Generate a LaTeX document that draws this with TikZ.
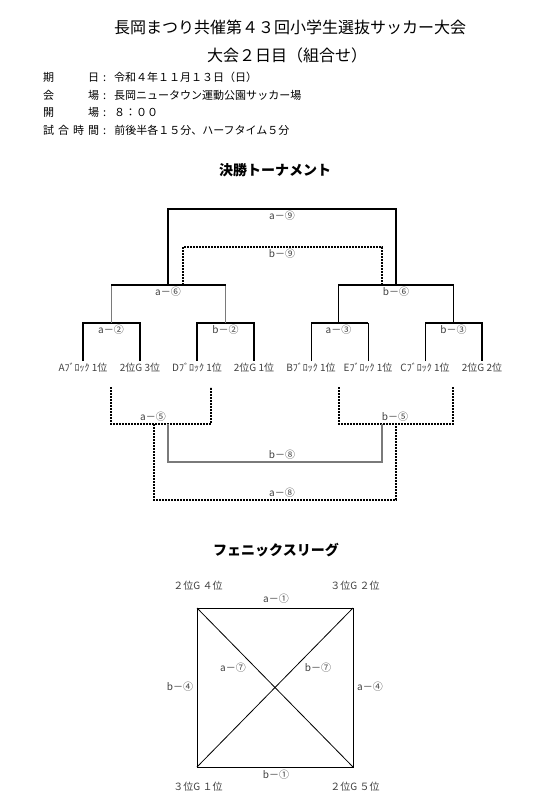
\documentclass[tikz,border=0pt]{standalone}
\usepackage{fontspec}
\setmainfont{Noto Sans CJK JP}
\usepackage{tikz}
\usetikzlibrary{positioning}
\definecolor{labelgray}{HTML}{404040}
\definecolor{linegray}{HTML}{7A7A7A}

\begin{document}
\begin{tikzpicture}[x=1pt,y=-1pt,
  txt/.style={inner sep=0pt,font=\fontsize{10}{12}\selectfont,text=labelgray},
  team/.style={inner sep=0pt,font=\fontsize{10}{12}\selectfont,text=labelgray},
  info/.style={inner sep=0pt,anchor=west,font=\fontsize{11}{13}\selectfont},
  head/.style={inner sep=0pt,font=\fontsize{14}{16}\selectfont\bfseries},
  win/.style={line width=1.6pt},
  thinline/.style={line width=0.8pt},
  dashline/.style={line width=1.2pt,dash pattern=on 2pt off 1pt},
  grayline/.style={line width=1.3pt,linegray}]
  \useasboundingbox (0,0) rectangle (539,799);

  % header
  \node[inner sep=0pt,font=\fontsize{16}{18}\selectfont] (title) at (290,27) {長岡まつり共催第４３回小学生選抜サッカー大会};
  \node[inner sep=0pt,font=\fontsize{16}{18}\selectfont] (sub) at (287,55) {大会２日目（組合せ）};
  \node[info] (day) at (43,77) {\makebox[56pt][s]{期\hfill{}日}\hspace{4pt}:\hspace{8pt}令和４年１１月１３日（日）};
  \node[info] (venue) at (43,95) {\makebox[56pt][s]{会\hfill{}場}\hspace{4pt}:\hspace{8pt}長岡ニュータウン運動公園サッカー場};
  \node[info] (open) at (43,112) {\makebox[56pt][s]{開\hfill{}場}\hspace{4pt}:\hspace{8pt}８：００};
  \node[info] (time) at (43,130) {\makebox[56pt][s]{試\hfill{}合\hfill{}時\hfill{}間}\hspace{4pt}:\hspace{8pt}前後半各１５分、ハーフタイム５分};

  % tournament
  \node[head] (cup) at (275,170) {決勝トーナメント};
  \node[team] (ta) at (83,368) {Aﾌﾞﾛｯｸ 1位};
  \node[team] (tb) at (140,368) {2位G 3位};
  \node[team] (tc) at (197,368) {Dﾌﾞﾛｯｸ 1位};
  \node[team] (td) at (254,368) {2位G 1位};
  \node[team] (te) at (311,368) {Bﾌﾞﾛｯｸ 1位};
  \node[team] (tf) at (368,368) {Eﾌﾞﾛｯｸ 1位};
  \node[team] (tg) at (425,368) {Cﾌﾞﾛｯｸ 1位};
  \node[team] (th) at (482,368) {2位G 2位};

  \coordinate (a2) at (111,323);
  \coordinate (b2) at (225.5,323);
  \coordinate (a3) at (338.5,323);
  \coordinate (b3) at (453.5,323);
  \coordinate (a6) at (168,285);
  \coordinate (b6) at (396,285);
  \coordinate (a9) at (282,209);
  \coordinate (b9) at (282,247);

  \draw[win,shorten <=2pt,shorten >=2pt] (ta.north) |- (a2) -| (tb.north);
  \draw[win,shorten <=2pt,shorten >=2pt] (tc.north) |- (b2) -| (td.north);
  \draw[thinline,shorten <=2pt,shorten >=2pt] (te.north) |- (a3);
  \draw[thinline,shorten <=2pt,shorten >=2pt] (tf.north) |- (a3);
  \draw[win] (a3 -| te.north) -- (a3 -| tf.north);
  \draw[thinline,shorten <=2pt] (tg.north) |- (b3);
  \draw[win,shorten >=2pt] (b3) -| (th.north);
  \draw[win] (b3) -- (b3 -| tg.north);
  \node[txt,below=2pt of a2] (la2) {a－②};
  \node[txt,below=2pt of b2] (lb2) {b－②};
  \node[txt,below=2pt of a3] (la3) {a－③};
  \node[txt,below=2pt of b3] (lb3) {b－③};

  \draw[thinline,linegray] (a2) -- (a2 |- a6);
  \draw[thinline,linegray] (b2) -- (b2 |- a6);
  \draw[win] (a2 |- a6) -- (b2 |- a6);
  \draw[win] (a3) |- (b6) -| (b3);
  \node[txt,below=2pt of a6] (la6) {a－⑥};
  \node[txt,below=2pt of b6] (lb6) {b－⑥};

  \draw[line width=1.1pt] (a6) |- (a9) -| (b6);
  \draw[win] (a9 -| b6) -- (b6);
  \draw[dashline] ([xshift=15pt]a6) |- (b9) -| ([xshift=-14pt]b6);
  \node[txt,below=2pt of a9] (la9) {a－⑨};
  \node[txt,below=2pt of b9] (lb9) {b－⑨};

  \coordinate (a5l) at (111,387);
  \coordinate (a5r) at (211,387);
  \coordinate (a5) at (161,424);
  \coordinate (b5l) at (339,387);
  \coordinate (b5r) at (453,387);
  \coordinate (b5) at (396,424);
  \coordinate (b8l) at (168,424);
  \coordinate (b8r) at (382,424);
  \coordinate (b8) at (282,462);
  \coordinate (a8l) at (154,424);
  \coordinate (a8r) at (396,424);
  \coordinate (a8) at (282,500);

  \draw[dashline] (a5l) |- (a5) -| (a5r);
  \draw[dashline] (b5l) |- (b5) -| (b5r);
  \draw[grayline] (b8l) |- (b8) -| (b8r);
  \draw[dashline] (a8l) |- (a8) -| (a8r);
  \node[txt] (la5) at (153,417) {a－⑤};
  \node[txt] (lb5) at (395,417) {b－⑤};
  \node[txt,above=2pt of b8] (lb8) {b－⑧};
  \node[txt,above=2pt of a8] (la8) {a－⑧};

  % league
  \node[head] (league) at (276,550) {フェニックスリーグ};
  \coordinate (ptl) at (197,608);
  \coordinate (ptr) at (353,608);
  \coordinate (pbr) at (353,767);
  \coordinate (pbl) at (197,767);
  \node[team] (g24) at (198,586) {２位G ４位};
  \node[team] (g32) at (355,586) {３位G ２位};
  \node[team] (g31) at (198,787) {３位G １位};
  \node[team] (g25) at (355,787) {２位G ５位};
  \draw[line width=1pt] (ptl) rectangle (pbr);
  \draw[thinline] (ptl) -- (pbr);
  \draw[thinline] (pbl) -- (ptr);
  \node[txt] (la1) at (276,599) {a－①};
  \node[txt] (lb1) at (276,775) {b－①};
  \node[txt] (lb4) at (180,687) {b－④};
  \node[txt] (la4) at (370,687) {a－④};
  \node[txt] (la7) at (233,668) {a－⑦};
  \node[txt] (lb7) at (318,668) {b－⑦};
\end{tikzpicture}
\end{document}
